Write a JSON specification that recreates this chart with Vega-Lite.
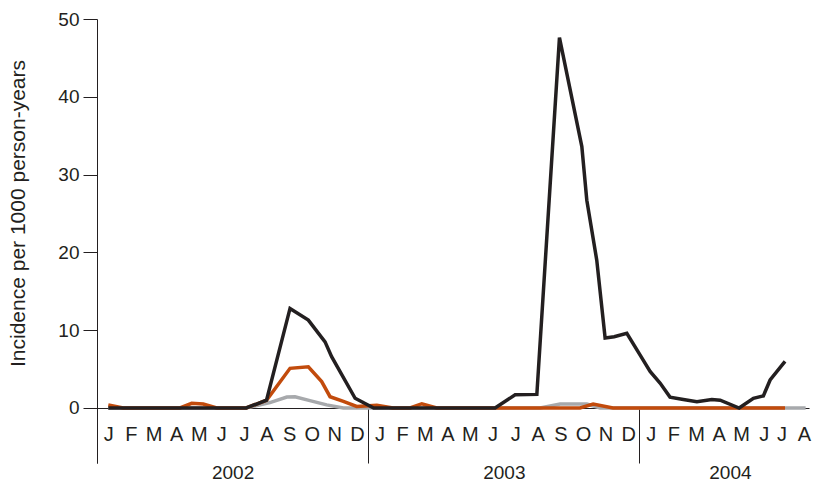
{
  "$schema": "https://vega.github.io/schema/vega-lite/v6.json",
  "autosize": "none",
  "padding": {"left": 97, "top": 19, "right": 6, "bottom": 20},
  "width": 712,
  "height": 444,
  "background": "white",
  "config": {
    "view": {"stroke": null},
    "axis": {"labelFont": "Liberation Sans", "titleFont": "Liberation Sans", "labelColor": "#231f20", "titleColor": "#231f20", "grid": false}
  },
  "data": {
    "values": [
      {"s": "gray", "t": 0, "v": 0}, {"s": "gray", "t": 6.1, "v": 0}, {"s": "gray", "t": 7.15, "v": 0.7}, {"s": "gray", "t": 7.9, "v": 1.4}, {"s": "gray", "t": 8.26, "v": 1.45}, {"s": "gray", "t": 8.92, "v": 0.95}, {"s": "gray", "t": 9.66, "v": 0.4}, {"s": "gray", "t": 10.4, "v": 0}, {"s": "gray", "t": 19.1, "v": 0}, {"s": "gray", "t": 19.99, "v": 0.5}, {"s": "gray", "t": 21.17, "v": 0.5}, {"s": "gray", "t": 21.76, "v": 0}, {"s": "gray", "t": 30.85, "v": 0},
      {"s": "orange", "t": 0, "v": 0.4}, {"s": "orange", "t": 0.66, "v": 0}, {"s": "orange", "t": 3.17, "v": 0}, {"s": "orange", "t": 3.69, "v": 0.6}, {"s": "orange", "t": 4.2, "v": 0.5}, {"s": "orange", "t": 4.8, "v": 0}, {"s": "orange", "t": 6.1, "v": 0}, {"s": "orange", "t": 7.0, "v": 1.0}, {"s": "orange", "t": 8.04, "v": 5.1}, {"s": "orange", "t": 8.85, "v": 5.3}, {"s": "orange", "t": 9.44, "v": 3.4}, {"s": "orange", "t": 9.81, "v": 1.45}, {"s": "orange", "t": 10.4, "v": 0.85}, {"s": "orange", "t": 10.99, "v": 0.2}, {"s": "orange", "t": 11.88, "v": 0.35}, {"s": "orange", "t": 12.6, "v": 0}, {"s": "orange", "t": 13.35, "v": 0}, {"s": "orange", "t": 13.87, "v": 0.55}, {"s": "orange", "t": 14.53, "v": 0}, {"s": "orange", "t": 20.87, "v": 0}, {"s": "orange", "t": 21.45, "v": 0.5}, {"s": "orange", "t": 22.33, "v": 0}, {"s": "orange", "t": 29.94, "v": 0},
      {"s": "black", "t": 0, "v": 0}, {"s": "black", "t": 6.1, "v": 0}, {"s": "black", "t": 7.0, "v": 1.0}, {"s": "black", "t": 8.04, "v": 12.8}, {"s": "black", "t": 8.85, "v": 11.3}, {"s": "black", "t": 9.59, "v": 8.5}, {"s": "black", "t": 9.88, "v": 6.6}, {"s": "black", "t": 10.92, "v": 1.25}, {"s": "black", "t": 11.74, "v": 0}, {"s": "black", "t": 17.11, "v": 0}, {"s": "black", "t": 18.0, "v": 1.7}, {"s": "black", "t": 18.96, "v": 1.75}, {"s": "black", "t": 19.96, "v": 47.6}, {"s": "black", "t": 20.95, "v": 33.6}, {"s": "black", "t": 21.17, "v": 26.7}, {"s": "black", "t": 21.61, "v": 19.0}, {"s": "black", "t": 21.98, "v": 9.0}, {"s": "black", "t": 22.38, "v": 9.15}, {"s": "black", "t": 22.94, "v": 9.6}, {"s": "black", "t": 23.53, "v": 6.8}, {"s": "black", "t": 23.97, "v": 4.7}, {"s": "black", "t": 24.41, "v": 3.2}, {"s": "black", "t": 24.85, "v": 1.4}, {"s": "black", "t": 25.44, "v": 1.1}, {"s": "black", "t": 26.04, "v": 0.8}, {"s": "black", "t": 26.7, "v": 1.1}, {"s": "black", "t": 27.07, "v": 1.0}, {"s": "black", "t": 27.91, "v": 0}, {"s": "black", "t": 28.54, "v": 1.25}, {"s": "black", "t": 28.98, "v": 1.55}, {"s": "black", "t": 29.28, "v": 3.6}, {"s": "black", "t": 29.94, "v": 6.0}
    ]
  },
  "resolve": {"axis": {"x": "independent"}},
  "layer": [
    {
      "transform": [{"filter": "datum.s == 'gray'"}],
      "mark": {"type": "line", "color": "#a7a9ac", "strokeWidth": 3.5, "strokeJoin": "miter"},
      "encoding": {
        "x": {
          "field": "t", "type": "quantitative",
          "scale": {"domain": [-0.5, 31], "nice": false, "zero": false},
          "axis": {
            "orient": "bottom", "offset": -55, "title": null,
            "values": [0,1,2,3,4,5,6,7,8,9,10,11,12,13,14,15,16,17,18,19,20,21,22,23,24,25,26,27,28,29,30,31],
            "labelExpr": "['J','F','M','A','M','J','J','A','S','O','N','D'][datum.value % 12]",
            "labelOffset": {"condition": {"test": "datum.value >= 30", "value": -5}, "value": 0},
            "ticks": false, "domain": true, "domainColor": "#231f20", "domainWidth": 1,
            "labelFontSize": 20, "labelPadding": 16, "labelBaseline": "top", "labelAlign": "center", "labelOverlap": false, "labelFlush": false
          }
        },
        "y": {
          "field": "v", "type": "quantitative",
          "scale": {"domain": [-7.07, 50], "nice": false, "zero": false},
          "axis": {
            "values": [0, 10, 20, 30, 40, 50],
            "domain": true, "domainColor": "#231f20", "domainWidth": 1,
            "ticks": true, "tickSize": 14, "tickColor": "#231f20", "tickWidth": 1,
            "labelFontSize": 19, "labelPadding": 4,
            "title": "Incidence per 1000 person-years",
            "titleFontSize": 21, "titleFontWeight": "normal",
            "titleX": -79, "titleY": 194, "titleAngle": -90, "titleAlign": "center", "titleBaseline": "middle"
          }
        }
      }
    },
    {
      "transform": [{"filter": "datum.s == 'orange'"}],
      "mark": {"type": "line", "color": "#c24b0c", "strokeWidth": 3.5, "strokeJoin": "miter"},
      "encoding": {
        "x": {
          "field": "t", "type": "quantitative",
          "axis": {
            "orient": "bottom", "offset": -55, "title": null,
            "values": [-0.5, 5.5, 11.5, 17.5, 23.5, 27.5],
            "labelExpr": "datum.value == 5.5 ? '2002' : datum.value == 17.5 ? '2003' : datum.value == 27.5 ? '2004' : ''",
            "ticks": true, "tickSize": 55, "tickColor": "#231f20", "tickWidth": 1,
            "tickOpacity": {"condition": {"test": "datum.value == 5.5 || datum.value == 17.5 || datum.value == 27.5", "value": 0}, "value": 1},
            "domain": false,
            "labelFontSize": 19, "labelPadding": 0, "labelBaseline": "top", "labelAlign": "center", "labelOverlap": false, "labelFlush": false
          }
        },
        "y": {"field": "v", "type": "quantitative"}
      }
    },
    {
      "transform": [{"filter": "datum.s == 'black'"}],
      "mark": {"type": "line", "color": "#231f20", "strokeWidth": 3.5, "strokeJoin": "miter"},
      "encoding": {
        "x": {"field": "t", "type": "quantitative", "axis": null},
        "y": {"field": "v", "type": "quantitative"}
      }
    }
  ]
}
